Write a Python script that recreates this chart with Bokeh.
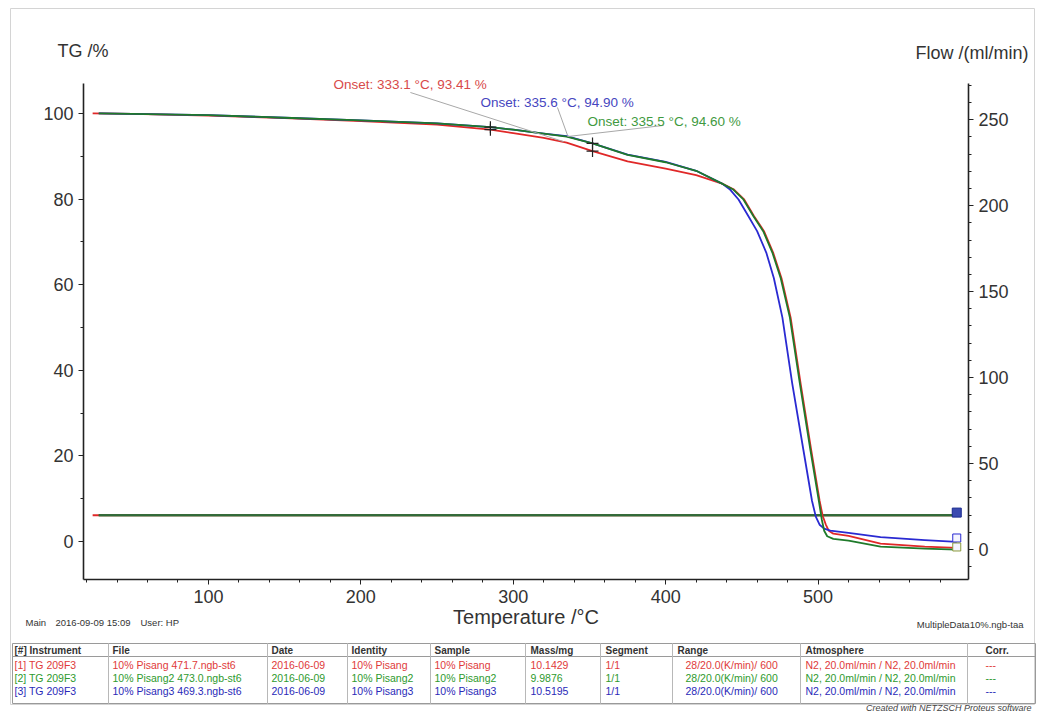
from bokeh.plotting import figure
from bokeh.models import Range1d, LinearAxis, Label, BoxAnnotation, SingleIntervalTicker
from bokeh.embed import file_html
from bokeh.resources import INLINE

# ---------------- data ----------------
red_t = [24, 50, 100, 150, 200, 250, 285, 300, 320, 335, 352, 375, 400, 420, 437, 444.5, 451.5, 458, 464.5, 470.5, 476, 482, 488.5, 495.5, 501, 503, 505, 507, 510, 520, 541, 570, 591]
red_tg = [100, 99.9, 99.5, 98.9, 98.2, 97.4, 96.2, 95.4, 94.3, 93.2, 91.2, 88.8, 87.1, 85.6, 83.6, 82.3, 79.9, 76.0, 72.5, 67.5, 61.5, 52.3, 37.0, 21.3, 9.5, 6.0, 4.0, 2.5, 1.8, 1.3, -0.5, -1.2, -1.5]

green_t = [28, 50, 100, 150, 200, 250, 285, 300, 320, 335, 352, 375, 400, 420, 437, 444, 451, 457.6, 464, 470, 475.5, 481.5, 488, 495, 500.5, 502.5, 504, 506, 510, 520, 541, 570, 591]
green_tg = [100, 99.9, 99.6, 99.0, 98.4, 97.7, 96.8, 96.2, 95.3, 94.6, 93.0, 90.3, 88.6, 86.6, 83.6, 82.3, 79.9, 76.0, 72.5, 67.5, 61.5, 52.3, 37.0, 21.3, 9.5, 5.0, 2.5, 1.2, 0.6, 0.2, -1.2, -1.7, -1.9]

blue_t = [28, 50, 100, 150, 200, 250, 285, 300, 320, 335, 352, 375, 400, 420, 437, 442, 447.8, 454.3, 460, 466, 471, 476.6, 483, 490.4, 496, 498.5, 501, 504, 508, 520, 541, 570, 591]
blue_tg = [100, 99.9, 99.6, 99.0, 98.4, 97.7, 96.8, 96.2, 95.3, 94.7, 93.0, 90.4, 88.7, 86.6, 83.6, 82.3, 79.9, 76.0, 72.5, 67.5, 61.5, 52.3, 37.0, 21.3, 9.5, 5.8, 3.9, 3.0, 2.5, 2.0, 1.0, 0.3, -0.1]

flow_t_start = [24, 28, 28]
flow_t_end = [591, 591, 591]
flow_value = [20.0, 20.0, 20.0]

onset_labels = ["Onset: 333.1 °C, 93.41 %", "Onset: 335.6 °C, 94.90 %", "Onset: 335.5 °C, 94.60 %"]
onset_t = [333.1, 335.6, 335.5]
onset_tg = [93.41, 94.90, 94.60]
onset_text_t = [182.0, 278.5, 348.7]
onset_text_tg = [106.8, 102.6, 98.1]
leader_t0 = [232.5, 329.0, 398.6]
leader_tg0 = [104.9, 101.4, 97.2]

cross_t = [285, 285, 352, 352]
cross_tg = [96.8, 96.2, 93.0, 91.2]

table_header = ["[#] Instrument", "File", "Date", "Identity", "Sample", "Mass/mg", "Segment", "Range", "Atmosphere", "Corr."]
table_rows = [
    ["[1] TG 209F3", "10% Pisang 471.7.ngb-st6", "2016-06-09", "10% Pisang", "10% Pisang", "10.1429", "1/1", "28/20.0(K/min)/ 600", "N2, 20.0ml/min / N2, 20.0ml/min", "---"],
    ["[2] TG 209F3", "10% Pisang2 473.0.ngb-st6", "2016-06-09", "10% Pisang2", "10% Pisang2", "9.9876", "1/1", "28/20.0(K/min)/ 600", "N2, 20.0ml/min / N2, 20.0ml/min", "---"],
    ["[3] TG 209F3", "10% Pisang3 469.3.ngb-st6", "2016-06-09", "10% Pisang3", "10% Pisang3", "10.5195", "1/1", "28/20.0(K/min)/ 600", "N2, 20.0ml/min / N2, 20.0ml/min", "---"],
]

# ---------------- layout / styling ----------------
W, H = 1038, 711
AX_L, AX_R, AX_T, AX_B = 83, 968, 83, 579      # axis box in page pixels
T_MIN, T_MAX = 18.0, 598.7
TG_MIN, TG_MAX = -8.9, 107.0
FL_MIN, FL_MAX = -17.4, 271.0

kx = (AX_R - AX_L) / (T_MAX - T_MIN)
ky = (AX_B - AX_T) / (TG_MAX - TG_MIN)
kf = (AX_B - AX_T) / (FL_MAX - FL_MIN)

FONT = "Liberation Sans"
curve_colors = ["#e02828", "#1f7a2a", "#2a2ad2"]
text_colors = ["#d84a4a", "#4646c0", "#3f9a3f"]
row_colors = ["#e03a3a", "#2e9a2e", "#2a2ab8"]

p = figure(width=W, height=H, output_backend="svg", toolbar_location=None,
           x_range=Range1d(T_MIN - AX_L / kx, T_MAX + (W - AX_R) / kx),
           y_range=Range1d(TG_MIN - (H - AX_B) / ky, TG_MAX + AX_T / ky),
           min_border=0, min_border_left=0, min_border_right=0, min_border_top=0, min_border_bottom=0)
p.title.visible = False
p.extra_y_ranges = {"flow": Range1d(FL_MIN - (H - AX_B) / kf, FL_MAX + AX_T / kf)}
p.add_layout(LinearAxis(y_range_name="flow"), "right")
p.grid.visible = False
p.outline_line_color = None
p.background_fill_color = "white"
p.border_fill_color = "white"

p.xaxis.fixed_location = TG_MIN
p.xaxis.bounds = (T_MIN, T_MAX)
p.yaxis[0].fixed_location = T_MIN
p.yaxis[0].bounds = (TG_MIN, TG_MAX)
p.yaxis[1].fixed_location = T_MAX
p.yaxis[1].bounds = (FL_MIN, FL_MAX)

p.xaxis.ticker = SingleIntervalTicker(interval=100, num_minor_ticks=5)
p.yaxis[0].ticker = SingleIntervalTicker(interval=20, num_minor_ticks=2)
p.yaxis[1].ticker = SingleIntervalTicker(interval=50, num_minor_ticks=5)
for ax in p.axis:
    ax.axis_line_color = "#222222"
    ax.axis_line_width = 1.6
    ax.major_tick_line_color = "#222222"
    ax.minor_tick_line_color = "#222222"
    ax.major_tick_in = 0
    ax.major_tick_out = 5
    ax.minor_tick_in = 0
    ax.minor_tick_out = 3
    ax.major_label_text_font = FONT
    ax.major_label_text_font_size = "18px"
    ax.major_label_text_color = "#333333"
    ax.major_label_standoff = 5
p.xaxis.axis_label = "Temperature /°C"
p.xaxis.axis_label_text_font = FONT
p.xaxis.axis_label_text_font_size = "20px"
p.xaxis.axis_label_text_font_style = "normal"
p.xaxis.axis_label_text_color = "#333333"
p.xaxis.axis_label_standoff = 0

# flow lines (right axis)
for i in range(3):
    p.line([flow_t_start[i], flow_t_end[i]], [flow_value[i], flow_value[i]], y_range_name="flow",
           line_color=curve_colors[i] if i != 2 else "#2f6a3a", line_width=2)
# TG curves
p.line(red_t, red_tg, line_color=curve_colors[0], line_width=1.8, line_join="round")
p.line(blue_t, blue_tg, line_color=curve_colors[2], line_width=1.8, line_join="round")
p.line(green_t, green_tg, line_color=curve_colors[1], line_width=1.8, line_join="round")

# end markers
p.scatter([flow_t_end[0]], [flow_value[0] + 1.5], y_range_name="flow", marker="square", size=9,
          fill_color="#3a4ab0", line_color="#1a2a90")
p.scatter([blue_t[-1], green_t[-1]], [blue_tg[-1] + 0.9, green_tg[-1] + 0.6], marker="square", size=8,
          fill_color="#f4f4ff", line_color=[curve_colors[2], "#8a9a3a"])

# onset crosses
p.scatter(cross_t, cross_tg, marker="cross", size=12, line_color="#222222", line_width=1.2)

# leaders and onset labels
for i in range(3):
    p.line([leader_t0[i], onset_t[i]], [leader_tg0[i], onset_tg[i]], line_color="#a8a8a8", line_width=1)
    p.add_layout(Label(x=onset_text_t[i], y=onset_text_tg[i], text=onset_labels[i],
                       text_font=FONT, text_font_size="13.5px", text_color=text_colors[i],
                       text_baseline="middle", text_align="left"))


def slabel(text, X, Y, size, color="#333333", align="left", style="normal"):
    p.add_layout(Label(x=X, y=H - Y, x_units="screen", y_units="screen", text=text,
                       text_font=FONT, text_font_size=size, text_color=color, text_align=align,
                       text_baseline="middle", text_font_style=style))


def sbox(x0, y0, x1, y1, color, width=1):
    p.add_layout(BoxAnnotation(left=x0, right=x1, top=H - y0, bottom=H - y1,
                               left_units="screen", right_units="screen", top_units="screen", bottom_units="screen",
                               fill_alpha=0, line_color=color, line_width=width, line_alpha=1))


# outer frame
sbox(10, 8, 1034, 704, "#d4d4d4")

slabel("TG /%", 57, 50, "18px")
slabel("Flow /(ml/min)", 1028, 52, "18px", align="right")

slabel("Main", 25, 622, "9.5px")
slabel("2016-09-09 15:09", 55, 622, "9.5px")
slabel("User: HP", 140, 622, "9.5px")
slabel("MultipleData10%.ngb-taa", 1023, 624, "9.5px", align="right")

# table
col_x = [12, 108, 267, 347, 430, 525, 600, 672, 800, 967]
text_dx = [2, 4, 4, 4, 4, 5, 5, 13, 5, 18]
sbox(12, 643, 1035, 703, "#9a9a9a")
sbox(12, 656, 1035, 656, "#9a9a9a")
for cx in col_x[1:]:
    sbox(cx, 643, cx, 703, "#b8b8b8")

for j, h in enumerate(table_header):
    slabel(h, col_x[j] + (text_dx[j] if j != 7 else 5), 650, "10px", "#333333", style="bold")
row_y = [664, 677, 690]
for r, row in enumerate(table_rows):
    for j, cell in enumerate(row):
        slabel(cell, col_x[j] + text_dx[j], row_y[r], "10.5px", row_colors[r])

slabel("Created with NETZSCH Proteus software", 1031, 707, "9px", "#444444", align="right", style="italic")

open("out.html", "w").write(file_html(p, INLINE))
